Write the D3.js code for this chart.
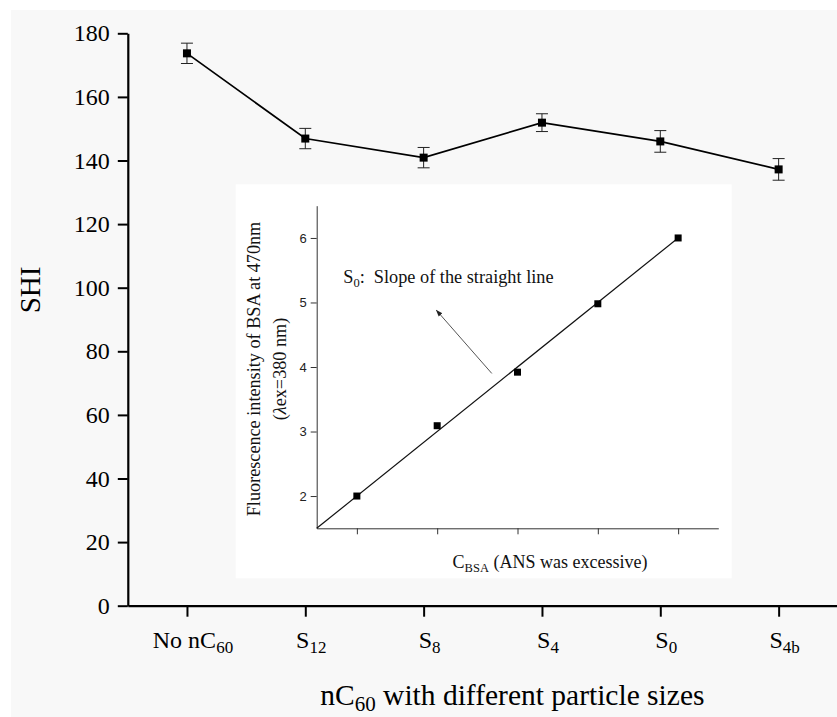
<!DOCTYPE html>
<html>
<head>
<meta charset="utf-8">
<script src="https://cdn.jsdelivr.net/npm/d3@7"></script>
<style>
  body { margin: 0; background: #fff; }
  svg { display: block; }
</style>
</head>
<body>
<div id="chart"></div>
<script>
// main chart data
var catMain = ["No nC", "S", "S", "S", "S", "S"];
var catSub = ["60", "12", "8", "4", "0", "4b"];
var shi = [173.7, 146.9, 140.9, 151.9, 146.0, 137.2];
var shiErr = [3.2, 3.2, 3.2, 2.8, 3.4, 3.4];
var yTicks = [0, 20, 40, 60, 80, 100, 120, 140, 160, 180];

// inset data
var insetX = [0.5, 1.5, 2.5, 3.5, 4.5];
var insetY = [2.0, 3.09, 3.92, 4.98, 6.0];
var fitX = [0, 4.5];
var fitY = [1.5, 6.0];
var insetTicks = [2, 3, 4, 5, 6];

var w = 837, h = 717;
var serif = "'Liberation Serif', 'Times New Roman', serif";
var sans = "'Liberation Sans', Arial, sans-serif";

var svg = d3.select("#chart").append("svg")
  .attr("width", w)
  .attr("height", h);

// grey panel
svg.append("rect")
  .attr("x", 11).attr("y", 10)
  .attr("width", w - 11).attr("height", h - 10)
  .attr("fill", "#f8f8f8");

var x = d3.scaleLinear().domain([0.5, 6.5]).range([127.8, 837.8]);
var y = d3.scaleLinear().domain([0, 180]).range([605.7, 33.3]);

// inset box
svg.append("rect")
  .attr("x", 235.7).attr("y", 184.3)
  .attr("width", 496).attr("height", 394)
  .attr("fill", "#fff");

// y axis main
var gy = svg.append("g").attr("transform", "translate(" + x(0.5) + ",0)");
gy.call(d3.axisLeft(y).tickValues(d3.range(10, 180, 20)).tickSize(6).tickSizeOuter(0).tickFormat(""));
gy.call(d3.axisLeft(y).tickValues(yTicks).tickSize(10).tickSizeOuter(0).tickPadding(8));
gy.selectAll("path").attr("stroke-width", 2.2);
gy.selectAll("line").attr("stroke-width", 2);
gy.selectAll("text").attr("font-family", serif).attr("font-size", 24).attr("fill", "#000");

// x axis main
var gx = svg.append("g").attr("transform", "translate(0," + y(0) + ")");
gx.call(d3.axisBottom(x).tickValues(d3.range(0.5, 7, 1)).tickSize(6).tickSizeOuter(0).tickFormat(""));
gx.call(d3.axisBottom(x).tickValues(d3.range(1, 7)).tickSize(11).tickSizeOuter(0).tickFormat(""));
gx.selectAll("path").attr("stroke-width", 2.2);
gx.selectAll("line").attr("stroke-width", 2);

// x tick labels with subscripts
var xl = svg.append("g").selectAll("text").data(catMain).join("text")
  .attr("x", function(d, i) { return x(i + 1) + 6; })
  .attr("y", 648)
  .attr("text-anchor", "middle")
  .attr("font-family", serif)
  .attr("font-size", 24);
xl.append("tspan").text(function(d) { return d; });
xl.append("tspan").attr("dy", 5).attr("font-size", 17).text(function(d, i) { return catSub[i]; });

// axis titles
svg.append("text")
  .attr("transform", "translate(40," + 290 + ") rotate(-90)")
  .attr("text-anchor", "middle")
  .attr("font-family", serif)
  .attr("font-size", 29)
  .text("SHI");

var xt = svg.append("text")
  .attr("x", x(3.75)).attr("y", 705)
  .attr("text-anchor", "middle")
  .attr("font-family", serif)
  .attr("font-size", 29.5);
xt.append("tspan").text("nC");
xt.append("tspan").attr("dy", 6).attr("font-size", 21).text("60");
xt.append("tspan").attr("dy", -6).text(" with different particle sizes");

// main line + error bars + markers
var pts = shi.map(function(v, i) { return {x: i + 1, y: v, e: shiErr[i]}; });
svg.append("path")
  .datum(pts)
  .attr("fill", "none")
  .attr("stroke", "#000")
  .attr("stroke-width", 1.7)
  .attr("d", d3.line().x(function(d) { return x(d.x); }).y(function(d) { return y(d.y); }));

var eb = svg.append("g").attr("stroke", "#222").attr("stroke-width", 1);
eb.selectAll(".v").data(pts).join("line")
  .attr("x1", function(d) { return x(d.x); }).attr("x2", function(d) { return x(d.x); })
  .attr("y1", function(d) { return y(d.y + d.e); }).attr("y2", function(d) { return y(d.y - d.e); });
eb.selectAll(".t").data(pts).join("line")
  .attr("x1", function(d) { return x(d.x) - 6; }).attr("x2", function(d) { return x(d.x) + 6; })
  .attr("y1", function(d) { return y(d.y + d.e); }).attr("y2", function(d) { return y(d.y + d.e); });
eb.selectAll(".b").data(pts).join("line")
  .attr("x1", function(d) { return x(d.x) - 6; }).attr("x2", function(d) { return x(d.x) + 6; })
  .attr("y1", function(d) { return y(d.y - d.e); }).attr("y2", function(d) { return y(d.y - d.e); });

svg.append("g").selectAll("rect").data(pts).join("rect")
  .attr("x", function(d) { return x(d.x) - 4; })
  .attr("y", function(d) { return y(d.y) - 4; })
  .attr("width", 8).attr("height", 8)
  .attr("fill", "#000");

// ---- inset ----
var ix = d3.scaleLinear().domain([0, 5]).range([316.7, 718.3]);
var iy = d3.scaleLinear().domain([1.5, 6.5]).range([528.3, 205.7]);

var igy = svg.append("g").attr("transform", "translate(" + ix(0) + ",0)");
igy.call(d3.axisLeft(iy).tickValues(d3.range(1.5, 6.6, 1)).tickSize(3).tickSizeOuter(0).tickFormat(""));
igy.call(d3.axisLeft(iy).tickValues(insetTicks).tickSize(6).tickSizeOuter(0).tickPadding(4).tickFormat(d3.format("d")));
igy.selectAll("path, line").attr("stroke", "#333").attr("stroke-width", 1);
igy.selectAll("text").attr("font-family", sans).attr("font-size", 13).attr("fill", "#222");

var igx = svg.append("g").attr("transform", "translate(0," + iy(1.5) + ")");
igx.call(d3.axisBottom(ix).tickValues(d3.range(0, 5.1, 1)).tickSize(3).tickSizeOuter(0).tickFormat(""));
igx.call(d3.axisBottom(ix).tickValues(insetX).tickSize(6).tickSizeOuter(0).tickFormat(""));
igx.selectAll("path, line").attr("stroke", "#333").attr("stroke-width", 1);

// fit line
svg.append("line")
  .attr("x1", ix(fitX[0])).attr("y1", iy(fitY[0]))
  .attr("x2", ix(fitX[1])).attr("y2", iy(fitY[1]))
  .attr("stroke", "#111").attr("stroke-width", 1.2);

svg.append("g").selectAll("rect").data(insetX).join("rect")
  .attr("x", function(d) { return ix(d) - 3.5; })
  .attr("y", function(d, i) { return iy(insetY[i]) - 3.5; })
  .attr("width", 7).attr("height", 7)
  .attr("fill", "#000");

// arrow annotation
svg.append("defs").append("marker")
  .attr("id", "ah")
  .attr("viewBox", "0 0 10 10")
  .attr("refX", 9).attr("refY", 5)
  .attr("markerWidth", 7).attr("markerHeight", 7)
  .attr("orient", "auto")
  .append("path").attr("d", "M0,1.5L10,5L0,8.5z").attr("fill", "#222");

svg.append("line")
  .attr("x1", ix(2.18)).attr("y1", iy(3.9))
  .attr("x2", ix(1.49)).attr("y2", iy(4.88))
  .attr("stroke", "#555").attr("stroke-width", 1)
  .attr("marker-end", "url(#ah)");

var ann = svg.append("text")
  .attr("x", ix(0.33)).attr("y", iy(5.3))
  .attr("font-family", serif)
  .attr("font-size", 18.3)
  .attr("fill", "#111");
ann.append("tspan").text("S");
ann.append("tspan").attr("dy", 4).attr("font-size", 12.5).text("0");
ann.append("tspan").attr("dy", -4).attr("xml:space", "preserve").text(":  Slope of the straight line");

// inset axis titles
var iyl = svg.append("text")
  .attr("transform", "translate(260,369) rotate(-90)")
  .attr("text-anchor", "middle")
  .attr("font-family", serif)
  .attr("font-size", 18.2)
  .attr("fill", "#111");
iyl.append("tspan").attr("x", 0).attr("dy", 0).text("Fluorescence intensity of BSA at 470nm");
var l2 = iyl.append("tspan").attr("x", 0).attr("dy", 26);
l2.append("tspan").text("(");
l2.append("tspan").attr("font-style", "italic").text("λ");
l2.append("tspan").text("ex=380 nm)");

var ixl = svg.append("text")
  .attr("x", 550).attr("y", 568)
  .attr("text-anchor", "middle")
  .attr("font-family", serif)
  .attr("font-size", 18)
  .attr("fill", "#111");
ixl.append("tspan").text("C");
ixl.append("tspan").attr("dy", 4).attr("font-size", 12.5).text("BSA");
ixl.append("tspan").attr("dy", -4).text(" (ANS was excessive)");
</script>
</body>
</html>
